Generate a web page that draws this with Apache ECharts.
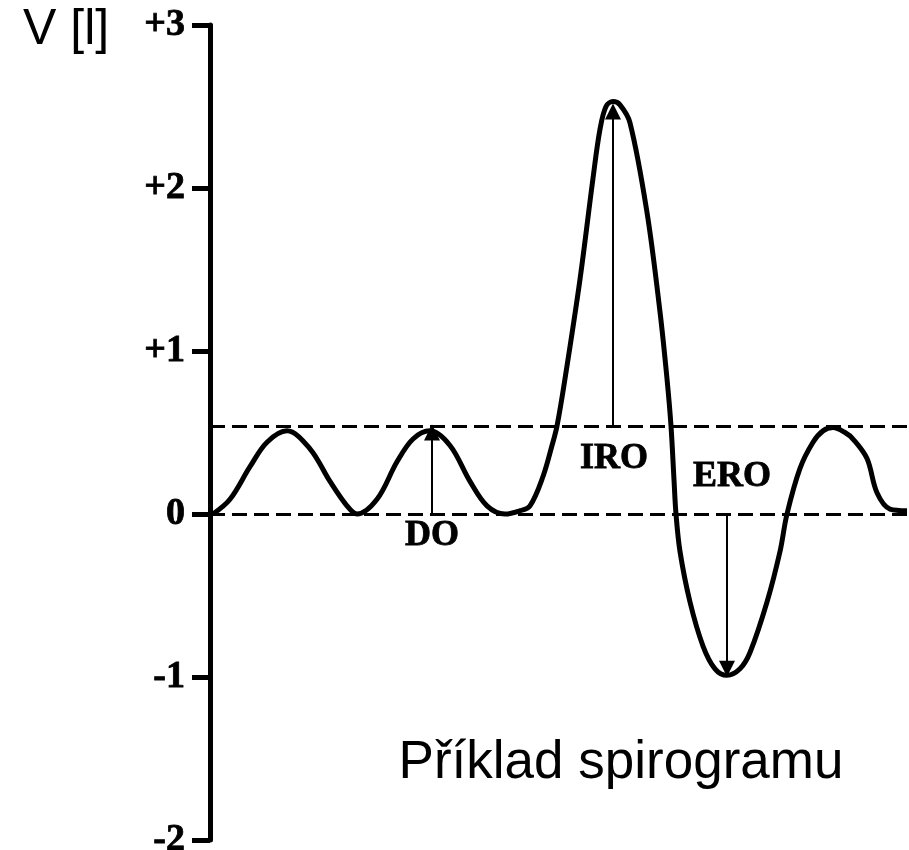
<!DOCTYPE html>
<html><head><meta charset="utf-8">
<script src="https://cdn.jsdelivr.net/npm/echarts@6/dist/echarts.min.js"></script>
<style>html,body{margin:0;padding:0;background:#fff}#c{width:909px;height:850px}</style>
</head><body><div id="c"></div>
<script>
// spirogram trace: time (arbitrary units) and volume (l)
const timeT = [0.3,2.0,4.0,5.7,7.7,10.0,12.0,13.7,14.7,16.7,18.7,20.3,22.0,24.0,26.0,27.7,29.5,31.0,32.0,33.3,34.2,34.7,35.5,37.0,38.3,39.0,39.6,40.3,41.0,42.0,43.7,45.0,45.7,46.1,46.4,46.6,47.0,48.0,49.3,50.5,51.7,53.0,54.0,55.7,57.0,57.7,59.0,60.3,61.3,62.3,63.5,64.3,65.7,66.7,68.0,69.7];
const volumeL = [0,0.09,0.29,0.44,0.51,0.40,0.20,0.05,0,0.09,0.32,0.46,0.51,0.42,0.20,0.05,0,0.02,0.05,0.23,0.42,0.54,0.83,1.44,2.06,2.36,2.50,2.53,2.51,2.40,1.85,1.24,0.83,0.54,0.21,0,-0.23,-0.54,-0.81,-0.95,-0.99,-0.95,-0.85,-0.54,-0.23,0,0.28,0.44,0.51,0.53,0.50,0.46,0.34,0.13,0.03,0.02];
// reference levels (dashed)
const levelValues = [0, 0.535];
// y axis ticks
const yTickValues = [-2,-1,0,1,2,3];
const yTickLabels = ['-2','-1','0','+1','+2','+3'];
// volume arrows
const arrowNames = ['DO','IRO','ERO'];
const arrowT = [22.2, 40.3, 51.7];
const arrowFrom = [0, 0.535, 0];
const arrowTo = [0.50, 2.47, -0.95];
// annotation label anchors
const labelT = [22.2, 40.4, 52.2];
const labelV = [-0.135, 0.34, 0.23];

const chart = echarts.init(document.getElementById('c'), null, {renderer:'canvas'});
const serif = '"Liberation Serif","Times New Roman",serif';
const sans = '"Liberation Sans",Arial,sans-serif';

chart.setOption({
  animation:false,
  backgroundColor:'#fff',
  grid:{left:210,right:2,top:25,bottom:10,containLabel:false,outerBoundsMode:'none'},
  xAxis:{type:'value',min:0,max:69.7,show:false},
  yAxis:{type:'value',min:-2,max:3,interval:1,
    axisLine:{show:true,lineStyle:{color:'#000',width:5}},
    axisTick:{show:true,length:18,lineStyle:{color:'#000',width:5}},
    splitLine:{show:false},
    axisLabel:{margin:25,color:'#000',fontFamily:serif,fontWeight:'bold',fontSize:38,
      padding:[0,0,10,0],textBorderColor:'#000',textBorderWidth:0.8,
      formatter:v=>{const i=yTickValues.indexOf(v);return i>=0?yTickLabels[i]:'';}}
  },
  graphic:[
    {type:'text',x:23,y:30,style:{text:'V [l]',font:'50px '+sans,fill:'#000',align:'left',verticalAlign:'middle',textAlign:'left',textVerticalAlign:'middle'}},
    {type:'text',x:621,y:763,style:{text:'Příklad spirogramu',font:'53px '+sans,fill:'#000',align:'center',verticalAlign:'middle',textAlign:'center',textVerticalAlign:'middle'}}
  ],
  series:[
    {type:'line',data:timeT.map((t,i)=>[t,volumeL[i]]),smooth:0.35,symbol:'none',
      lineStyle:{color:'#000',width:5},z:5,
      markLine:{silent:true,symbol:['none','none'],label:{show:false},
        lineStyle:{color:'#000',width:3,type:[15,7]},
        data:levelValues.map(v=>({yAxis:v}))}},
    {type:'lines',coordinateSystem:'cartesian2d',polyline:false,z:4,
      symbol:['none','triangle'],symbolSize:[10,16],
      lineStyle:{color:'#000',width:2,opacity:1},
      data:arrowT.map((t,i)=>({name:arrowNames[i],coords:[[t,arrowFrom[i]],[t,arrowTo[i]]]}))},
    {type:'scatter',symbol:'circle',symbolSize:1,itemStyle:{color:'#fff',opacity:1},z:6,silent:true,
      data:labelT.map((t,i)=>({name:arrowNames[i],value:[t,labelV[i]]})),
      label:{show:true,position:'inside',formatter:p=>p.name,color:'#000',opacity:1,
        fontFamily:serif,fontWeight:'bold',fontSize:36,textBorderColor:'#000',textBorderWidth:0.8}}
  ]
});
</script></body></html>
